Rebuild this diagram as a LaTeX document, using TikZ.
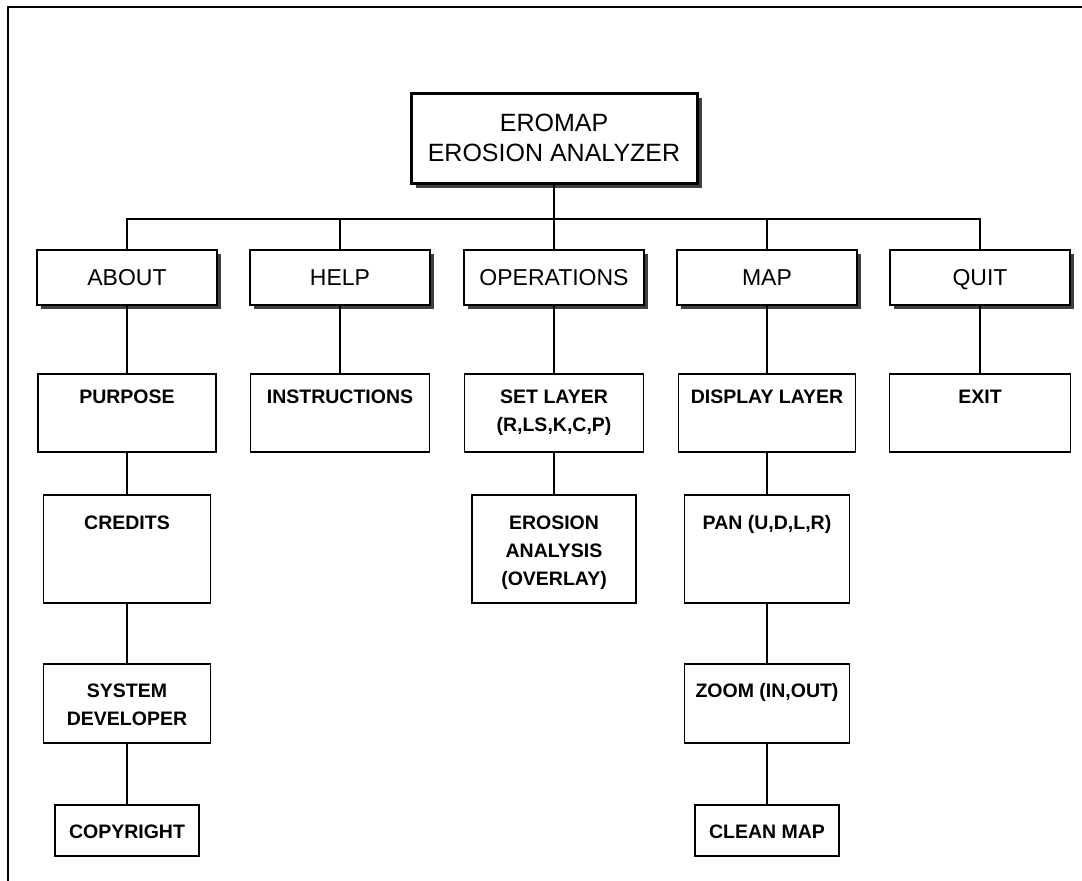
\documentclass[tikz,border=0pt]{standalone}
\usepackage{fontspec}
\setmainfont{Liberation Sans}
\usetikzlibrary{shadows}

\newcommand{\boxlines}[1]{\begin{tabular}[t]{@{}c@{}}#1\end{tabular}}

\tikzset{
  topbox/.style={rectangle, draw=black, line width=3pt, fill=white, inner sep=0pt, minimum width=286pt, minimum height=90pt, align=center, font=\fontsize{25}{30}\selectfont, drop shadow={shadow xshift=5pt, shadow yshift=-5pt, opacity=1, fill=black!75}},
  menubox/.style={rectangle, draw=black, line width=1.6pt, fill=white, inner sep=0pt, minimum width=180pt, minimum height=55pt, text height=16.5pt, text depth=0pt, font=\fontsize{23}{27}\selectfont, drop shadow={shadow xshift=4pt, shadow yshift=-4pt, opacity=1, fill=black!75}},
  itembox/.style={rectangle, draw=black, line width=1.6pt, fill=white, inner sep=0pt, font=\fontsize{19.5}{28}\selectfont\bfseries},
  rowtwo/.style={itembox, text height=29pt, text depth=49pt},
  rowthree/.style={itembox, text height=34pt, text depth=74pt},
  rowfour/.style={itembox, text height=33pt, text depth=46pt},
  rowfive/.style={itembox, text height=33pt, text depth=18pt},
  link/.style={line width=1.5pt}
}

\begin{document}
\begin{tikzpicture}[x=1pt, y=-1pt]
\useasboundingbox (0,0) rectangle (1082,881);
\draw[line width=2pt] (1082,7) -- (8,7) -- (8,881);

\node[topbox] (title) at (554, 138) {EROMAP\\EROSION ANALYZER};

\node[menubox] (about) at (127, 277.5) {ABOUT};
\node[menubox] (help) at (340, 277.5) {HELP};
\node[menubox] (ops) at (554, 277.5) {OPERATIONS};
\node[menubox] (map) at (767, 277.5) {MAP};
\node[menubox] (quit) at (980, 277.5) {QUIT};

\node[rowtwo, minimum width=178pt] (purpose) at (127, 413) {\boxlines{PURPOSE}};
\node[rowtwo, minimum width=179pt] (instr) at (340, 413) {\boxlines{INSTRUCTIONS}};
\node[rowtwo, minimum width=179pt] (setlayer) at (554, 413) {\boxlines{SET LAYER\\(R,LS,K,C,P)}};
\node[rowtwo, minimum width=177pt] (display) at (767, 413) {\boxlines{DISPLAY LAYER}};
\node[rowtwo, minimum width=181pt] (exit) at (980, 413) {\boxlines{EXIT}};

\node[rowthree, minimum width=167pt] (credits) at (127, 549) {\boxlines{CREDITS}};
\node[rowthree, minimum width=164pt] (erosion) at (554, 549) {\boxlines{EROSION\\ANALYSIS\\(OVERLAY)}};
\node[rowthree, minimum width=165pt] (pan) at (767, 549) {\boxlines{PAN (U,D,L,R)}};

\node[rowfour, minimum width=167pt] (sysdev) at (127, 703.5) {\boxlines{SYSTEM\\DEVELOPER}};
\node[rowfour, minimum width=165pt] (zoom) at (767, 703.5) {\boxlines{ZOOM (IN,OUT)}};

\node[rowfive, minimum width=144pt] (copyright) at (127, 830.5) {\boxlines{COPYRIGHT}};
\node[rowfive, minimum width=144pt] (clean) at (767, 830.5) {\boxlines{CLEAN MAP}};

% menu bar
\coordinate (bus) at (554, 219);
\draw[link] (title.south) -- (bus);
\draw[link] (about.north) |- (bus) -| (quit.north);
\foreach \n in {help, ops, map}
  \draw[link] (\n.north) -- (\n.north |- bus);

% columns
\draw[link] (about.south) -- (purpose.north) (purpose.south) -- (credits.north) (credits.south) -- (sysdev.north) (sysdev.south) -- (copyright.north);
\draw[link] (help.south) -- (instr.north);
\draw[link] (ops.south) -- (setlayer.north) (setlayer.south) -- (erosion.north);
\draw[link] (map.south) -- (display.north) (display.south) -- (pan.north) (pan.south) -- (zoom.north) (zoom.south) -- (clean.north);
\draw[link] (quit.south) -- (exit.north);
\end{tikzpicture}
\end{document}
